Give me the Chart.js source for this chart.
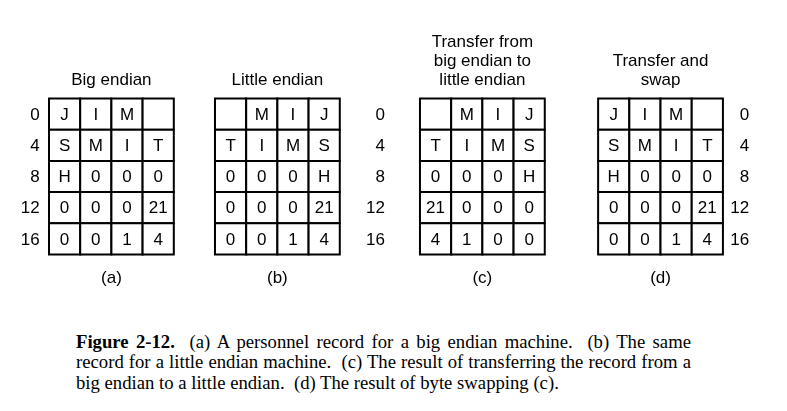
<!DOCTYPE html>
<html>
<head>
<meta charset="utf-8">
<script src="https://cdn.jsdelivr.net/npm/chart.js@4/dist/chart.umd.min.js"></script>
<style>
html,body{margin:0;padding:0;background:#fff;}
#wrap{position:relative;width:787px;height:411px;overflow:hidden;}
#chartBox{position:absolute;left:0;top:0;width:787px;height:300px;}
#caption{position:absolute;left:76px;top:331.5px;width:615px;font-family:"Liberation Serif","Times New Roman",serif;font-size:18.7px;line-height:20.5px;color:#000;}
.ln{white-space:pre-wrap;}
.j{text-align:justify;text-align-last:justify;}
b{font-weight:bold;}
</style>
</head>
<body>
<div id="wrap">
  <div id="chartBox"><canvas id="c"></canvas></div>
  <div id="caption">
    <div class="ln j"><b>Figure 2-12.</b>  (a) A personnel record for a big endian machine.  (b) The same</div>
    <div class="ln j">record for a little endian machine.  (c) The result of transferring the record from a</div>
    <div class="ln">big endian to a little endian.  (d) The result of byte swapping (c).</div>
  </div>
</div>
<script>
// ---- data ----
const rowOffsets = ["0", "4", "8", "12", "16"];
const bigEndian = [
  ["J", "I", "M", ""],
  ["S", "M", "I", "T"],
  ["H", "0", "0", "0"],
  ["0", "0", "0", "21"],
  ["0", "0", "1", "4"]
];
const littleEndian = [
  ["", "M", "I", "J"],
  ["T", "I", "M", "S"],
  ["0", "0", "0", "H"],
  ["0", "0", "0", "21"],
  ["0", "0", "1", "4"]
];
const transferred = [
  ["", "M", "I", "J"],
  ["T", "I", "M", "S"],
  ["0", "0", "0", "H"],
  ["21", "0", "0", "0"],
  ["4", "1", "0", "0"]
];
const swapped = [
  ["J", "I", "M", ""],
  ["S", "M", "I", "T"],
  ["H", "0", "0", "0"],
  ["0", "0", "0", "21"],
  ["0", "0", "1", "4"]
];
const panelTitles = [
  ["Big endian"],
  ["Little endian"],
  ["Transfer from", "big endian to", "little endian"],
  ["Transfer and", "swap"]
];
const panelLetters = ["(a)", "(b)", "(c)", "(d)"];

// ---- layout (in cell units) ----
const CELL_PX = 31.2;
const layout = {
  panelOffsets: [0, 5.32, 11.89, 17.6],
  labelColumns: [-0.30, 10.77, 22.44],
  titleY: -0.57,
  titleLineHeight: 19,
  letterY: 5.75,
  originX: 49,
  originY: 98.5
};
const panels = [bigEndian, littleEndian, transferred, swapped];

const datasets = panels.map((grid, p) => {
  const pts = [], texts = [];
  grid.forEach((row, r) => row.forEach((txt, c) => {
    pts.push({x: layout.panelOffsets[p] + c + 0.5, y: r + 0.5});
    texts.push(txt);
  }));
  return {
    label: panelLetters[p],
    data: pts,
    texts: texts,
    pointStyle: 'rect',
    radius: (ctx) => {
      const xs = ctx.chart.scales.x;
      const side = Math.abs(xs.getPixelForValue(1) - xs.getPixelForValue(0));
      return side / (2 * Math.SQRT1_2);
    },
    backgroundColor: '#ffffff',
    borderColor: '#000000',
    borderWidth: 2,
    showLine: false
  };
});

const FONT = '17px "Liberation Sans", Arial, Helvetica, sans-serif';

const textPlugin = {
  id: 'textPlugin',
  afterDatasetsDraw(chart) {
    const ctx = chart.ctx, xs = chart.scales.x, ys = chart.scales.y;
    ctx.save();
    ctx.fillStyle = '#000';
    ctx.font = FONT;
    ctx.textBaseline = 'middle';
    ctx.textAlign = 'center';
    chart.data.datasets.forEach((ds, i) => {
      const meta = chart.getDatasetMeta(i);
      meta.data.forEach((el, j) => {
        const t = ds.texts[j];
        if (t) ctx.fillText(t, el.x, el.y + 1);
      });
    });
    ctx.textAlign = 'right';
    layout.labelColumns.forEach(u => {
      rowOffsets.forEach((lab, r) => {
        ctx.fillText(lab, xs.getPixelForValue(u), ys.getPixelForValue(r + 0.5) + 1);
      });
    });
    ctx.textAlign = 'center';
    layout.panelOffsets.forEach((off, p) => {
      const cx = xs.getPixelForValue(off + 2);
      const lines = panelTitles[p];
      const base = ys.getPixelForValue(layout.titleY);
      lines.forEach((ln, k) => {
        ctx.fillText(ln, cx, base - (lines.length - 1 - k) * layout.titleLineHeight);
      });
      ctx.fillText(panelLetters[p], cx, ys.getPixelForValue(layout.letterY));
    });
    ctx.restore();
  }
};

const W = 787, H = 300;
new Chart(document.getElementById('c'), {
  type: 'scatter',
  data: { datasets },
  options: {
    responsive: true,
    maintainAspectRatio: false,
    animation: false,
    events: [],
    layout: { padding: 0 },
    scales: {
      x: { type: 'linear', display: false, min: -layout.originX / CELL_PX, max: (W - layout.originX) / CELL_PX },
      y: { type: 'linear', display: false, reverse: true, min: -layout.originY / CELL_PX, max: (H - layout.originY) / CELL_PX }
    },
    plugins: { legend: { display: false }, tooltip: { enabled: false } }
  },
  plugins: [textPlugin]
});
</script>
</body>
</html>
